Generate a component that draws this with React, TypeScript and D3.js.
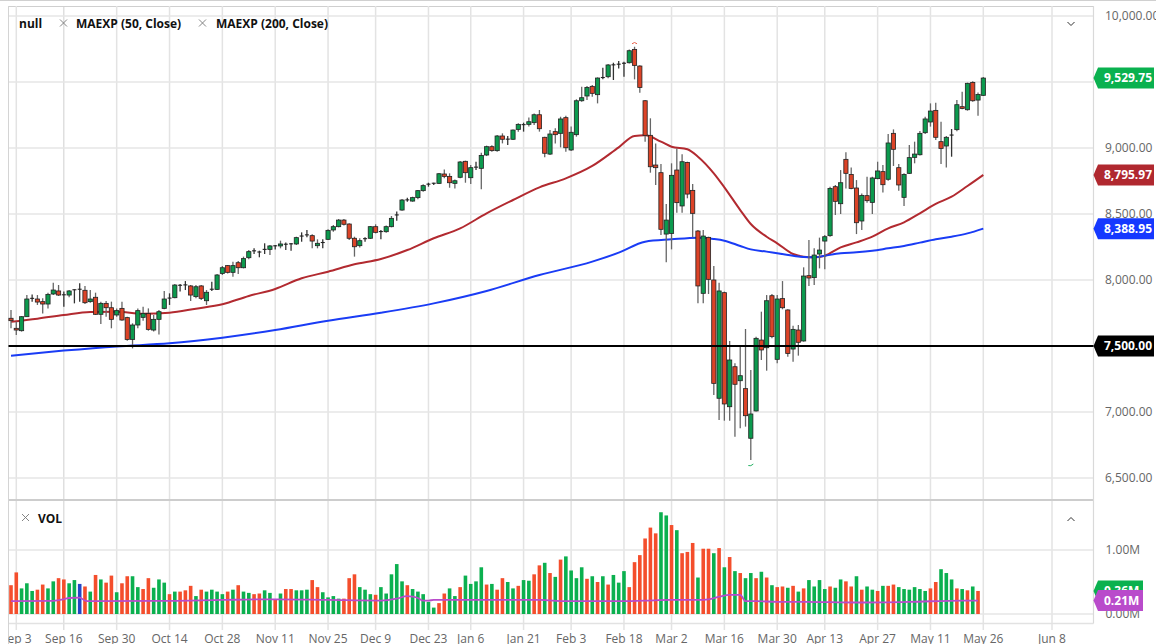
import React from "react";
import { scaleLinear, line, curveMonotoneX, format } from "d3";

// price data (bar 0 is the one before Sep 3)
const opens = [
  7710,7634,7616,7722,7854,7856,7836,7818,7894,7917,
  7888,7886,7922,7928,7922,7836,7869,7740,7823,7790,
  7735,7785,7715,7550,7659,7717,7747,7621,7702,7785,
  7859,7866,7958,7960,7955,7874,7955,7843,7927,7929,
  8050,8109,8058,8131,8093,8169,8218,8212,8222,8232,
  8256,8258,8271,8272,8273,8329,8339,8336,8260,8281,
  8308,8379,8404,8454,8424,8316,8260,8308,8316,8404,
  8364,8366,8404,8490,8530,8604,8598,8624,8677,8723,
  8733,8732,8803,8785,8732,8778,8899,8775,8851,8846,
  8947,9010,8980,9091,9064,9066,9141,9175,9179,9192,
  9252,9081,8954,9124,9111,9230,8985,9101,9358,9394,
  9467,9404,9531,9540,9627,9632,9639,9646,9747,9621,
  9358,9096,8871,8813,8348,8353,8833,8561,8891,8679,
  8371,7899,8323,8000,7104,7904,7040,7343,7237,7177,
  6801,7008,7545,7487,7881,7399,7859,7773,7477,7621,
  7538,8033,8018,8197,8295,8336,8707,8578,8914,8800,
  8697,8447,8639,8588,8768,8821,8763,9111,8851,8626,
  8808,8929,8949,9116,9197,9285,9048,9015,9094,9139,
  9313,9290,9497,9363,9399,
];
const closes = [
  7692,7621,7722,7856,7861,7833,7818,7891,7924,7886,
  7885,7917,7926,7930,7828,7856,7740,7823,7790,7702,
  7768,7697,7550,7659,7768,7747,7626,7702,7760,7856,
  7863,7962,7960,7963,7886,7949,7861,7907,7930,8038,
  8093,8058,8109,8093,8162,8215,8221,8209,8232,8258,
  8259,8273,8269,8274,8321,8333,8342,8295,8278,8284,
  8376,8404,8454,8422,8316,8252,8298,8313,8404,8361,
  8367,8404,8467,8493,8606,8607,8624,8677,8715,8726,
  8731,8805,8785,8737,8752,8894,8813,8851,8855,8944,
  9010,8980,9091,9066,9067,9136,9179,9177,9199,9252,
  9146,8960,9106,9101,9220,9002,9119,9358,9381,9459,
  9414,9530,9534,9629,9630,9635,9642,9737,9626,9459,
  9096,8858,8851,8384,8454,8793,8586,8896,8651,8505,
  7955,8333,8005,7217,7917,7061,7394,7210,7275,6972,
  6985,7558,7470,7843,7571,7856,7790,7444,7626,7528,
  8030,8015,8189,8227,8328,8694,8596,8737,8808,8694,
  8434,8641,8601,8773,8826,8722,9038,8990,8720,8800,
  8927,8954,9111,9220,9280,9081,8997,9081,9098,9328,
  9300,9490,9358,9406,9529.75,
];
const highs = [
  7773,7684,7727,7886,7891,7886,7861,7904,7980,7962,
  7912,7924,7929,7975,7955,7924,7904,7836,7841,7836,
  7785,7836,7722,7672,7785,7798,7785,7735,7773,7917,
  7899,7970,7970,7992,7962,7962,7962,7924,7987,8045,
  8106,8114,8139,8144,8177,8227,8240,8222,8278,8265,
  8265,8298,8285,8280,8328,8361,8379,8346,8308,8308,
  8384,8417,8462,8462,8429,8328,8316,8323,8409,8422,
  8379,8412,8485,8518,8614,8624,8631,8682,8725,8737,
  8737,8810,8838,8808,8762,8901,8904,8871,8896,8964,
  9018,9020,9098,9111,9091,9141,9187,9192,9232,9262,
  9288,9086,9136,9149,9237,9245,9162,9369,9464,9470,
  9477,9535,9608,9636,9646,9659,9654,9747,9767,9626,
  9363,9225,9035,8879,8576,8884,8997,8952,8896,8727,
  8379,8379,8328,8106,7980,7912,7538,7369,7495,7629,
  7318,7571,7760,7886,7894,7886,7992,7778,7654,7659,
  8096,8303,8240,8321,8341,8707,8720,8833,8967,8853,
  8757,8656,8783,8783,8896,8871,9106,9141,8879,8808,
  9023,9048,9129,9237,9338,9343,9199,9091,9144,9363,
  9427,9495,9505,9421,9538,
];
const lows = [
  7634,7583,7609,7722,7836,7811,7747,7785,7886,7879,
  7798,7869,7823,7836,7818,7828,7735,7667,7722,7634,
  7722,7692,7540,7482,7634,7692,7616,7609,7588,7778,
  7811,7861,7912,7924,7841,7861,7848,7811,7917,7924,
  8038,8050,8025,8045,8088,8157,8197,8172,8197,8189,
  8232,8240,8227,8222,8265,8290,8323,8240,8240,8240,
  8303,8366,8399,8412,8303,8177,8247,8290,8311,8353,
  8308,8358,8399,8449,8525,8593,8593,8611,8669,8707,
  8720,8727,8770,8699,8694,8770,8737,8727,8833,8687,
  8939,8972,8972,9035,9023,9060,9124,9124,9162,9174,
  9124,8929,8947,9035,9005,8972,8977,9086,9351,9363,
  9389,9338,9520,9528,9515,9603,9540,9641,9520,9419,
  9048,8813,8720,8341,8134,8232,8510,8510,8619,8323,
  7823,7823,7894,7129,6939,6934,6934,6813,6876,6889,
  6636,7003,7394,7313,7558,7369,7778,7419,7381,7427,
  7533,7955,7962,8088,8081,8328,8492,8500,8694,8687,
  8348,8379,8586,8500,8763,8662,8752,8864,8677,8561,
  8803,8884,8944,9106,9162,9060,8879,8853,8934,9126,
  9293,9283,9351,9245,9394,
];

// volume in millions, no bar for the last session
const volumes = [
  0.45,0.65,0.40,0.48,0.36,0.38,0.46,0.40,0.51,0.56,
  0.54,0.48,0.53,0.47,0.43,0.35,0.61,0.54,0.49,0.60,
  0.34,0.48,0.59,0.59,0.42,0.39,0.56,0.41,0.54,0.49,
  0.31,0.35,0.35,0.37,0.44,0.28,0.38,0.35,0.38,0.35,
  0.31,0.35,0.38,0.45,0.35,0.33,0.31,0.32,0.37,0.33,
  0.22,0.32,0.39,0.39,0.37,0.37,0.38,0.53,0.42,0.34,
  0.26,0.28,0.24,0.24,0.56,0.62,0.42,0.38,0.31,0.30,
  0.42,0.32,0.62,0.78,0.51,0.45,0.39,0.35,0.31,0.19,
  0.10,0.17,0.32,0.40,0.28,0.42,0.60,0.47,0.51,0.73,
  0.46,0.47,0.38,0.56,0.50,0.40,0.44,0.53,0.52,0.62,
  0.76,0.80,0.64,0.58,0.85,0.90,0.68,0.56,0.73,0.55,
  0.59,0.50,0.59,0.46,0.61,0.49,0.67,0.42,0.81,0.92,
  1.18,1.35,1.26,1.59,1.54,1.39,1.31,0.95,0.97,1.11,
  0.57,1.02,1.02,0.95,1.03,0.73,0.89,0.67,0.64,0.56,
  0.64,0.56,0.66,0.57,0.45,0.42,0.43,0.41,0.44,0.35,
  0.40,0.53,0.43,0.53,0.39,0.43,0.41,0.54,0.51,0.43,
  0.59,0.38,0.43,0.38,0.36,0.44,0.44,0.46,0.42,0.39,
  0.38,0.42,0.39,0.36,0.40,0.50,0.70,0.64,0.54,0.40,
  0.39,0.37,0.43,0.36,
];
// r = down, g = up, b = the one odd blue bar
const volumeSides = (
  "rrgggrrggr" + "rggbrgrgrr" + "grrggrrggg" + "rgrrrgrggg" + "grgrggrrgg" +
  "rgrrgggrrg" + "gggrrrgggr" + "ggggg" + "rgggggrr" + "ggrgggg" + "rgrrggrgg" +
  "rrgrgrggggr" + "grgrgggrrr" + "rrrggrgrrr" + "grrgrgrgrg" + "grgrgrrgrg" +
  "rgggg" + "rggrrgrggr" + "grrggggggr" + "rgggrgrg"
).split("");

const ma50Index = [0,5,10,15,20,25,30,35,40,45,50,55,60,65,70,75,80,85,90,95,100,105,110,115,118,120,123,125,128,130,133,135,138,140,143,145,148,150,152,154,157,160,163,166,169,172,175,178,181,184];
const ma50Values = [7684,7707,7735,7758,7760,7745,7752,7783,7816,7879,7932,8013,8063,8119,8159,8227,8316,8391,8505,8606,8702,8770,8864,9005,9091,9096,9048,9010,8990,8934,8808,8702,8530,8424,8328,8278,8197,8177,8172,8184,8247,8285,8328,8391,8437,8505,8576,8631,8712,8795.97];

const ma200Index = [0,10,20,30,40,50,60,70,80,90,100,110,115,120,125,130,133,135,138,140,143,145,148,150,152,154,157,160,163,166,169,172,175,178,181,184];
const ma200Values = [7427,7465,7497,7520,7563,7621,7692,7752,7823,7917,8038,8139,8207,8290,8308,8321,8311,8298,8258,8232,8215,8202,8184,8174,8172,8184,8202,8210,8222,8240,8258,8283,8308,8328,8353,8388.95];

const volMaIndex = [0,8,10,11,13,14,15,30,40,50,60,70,73,75,76,77,78,79,80,90,100,105,115,120,125,130,132,134,136,138,139,141,145,150,160,170,180,183];
const volMaValues = [0.2,0.205,0.23,0.25,0.255,0.21,0.2,0.205,0.22,0.23,0.22,0.21,0.24,0.28,0.27,0.25,0.21,0.21,0.22,0.22,0.22,0.2,0.2,0.21,0.22,0.22,0.23,0.27,0.3,0.3,0.2,0.2,0.19,0.19,0.18,0.19,0.21,0.21];

const dateLabels = ["Sep 3","Sep 16","Sep 30","Oct 14","Oct 28","Nov 11","Nov 25","Dec 9","Dec 23","Jan 6","Jan 21","Feb 3","Feb 18","Mar 2","Mar 16","Mar 30","Apr 13","Apr 27","May 11","May 26","Jun 8"];
const dateIndex = [1,10,20,30,40,50,60,69,79,87,97,106,116,125,135,145,154,164,174,184,197];
const priceTicks = [6500,7000,7500,8000,8500,9000,9500,10000];
const volTicks = [0,1];

const RIGHT = 1093.5;
const LEFT = 8.5;
const PANE_TOP = 6;
const PANE_SPLIT = 500;
const VOL_BOTTOM = 623.5;

const x = scaleLinear().domain([0, 197]).range([11, 1052]);
const y = scaleLinear().domain([6500, 10000]).range([478, 16]);
const yVol = scaleLinear().domain([0, 1]).range([614, 550]);

const fmtPrice = format(",.2f");
const fmtVol = (v: number) => v.toFixed(2) + "M";

const UP = "#0c9a4e";
const DOWN = "#dc4327";
const FONT = "'Open Sans', sans-serif";

const path50 = line<number>()
  .x((_, i) => x(ma50Index[i]))
  .y((d) => y(d))
  .curve(curveMonotoneX)(ma50Values) as string;
const path200 = line<number>()
  .x((_, i) => x(ma200Index[i]))
  .y((d) => y(d))
  .curve(curveMonotoneX)(ma200Values) as string;
const pathVolMa = line<number>()
  .x((_, i) => x(volMaIndex[i]))
  .y((d) => yVol(d))
  .curve(curveMonotoneX)(volMaValues) as string;

const Tag = ({ yPos, color, text, right = 1154 }: { yPos: number; color: string; text: string; right?: number }) => {
  const h = 10.5;
  const pts = `${RIGHT},${yPos} ${RIGHT + 4.5},${yPos - h} ${right},${yPos - h} ${right},${yPos + h} ${RIGHT + 4.5},${yPos + h}`;
  return (
    <g>
      <polygon points={pts} fill={color} />
      <text x={1104} y={yPos + 4.3} fill="#fff" fontSize={12} fontWeight={700} fontFamily={FONT}>
        {text}
      </text>
    </g>
  );
};

const Cross = ({ cx, cy }: { cx: number; cy: number }) => (
  <path
    d={`M${cx - 3.5},${cy - 3.5}L${cx + 3.5},${cy + 3.5}M${cx + 3.5},${cy - 3.5}L${cx - 3.5},${cy + 3.5}`}
    stroke="#777"
    strokeWidth={0.9}
  />
);

export default function App() {
  const last = closes.length - 1;
  return (
    <svg
      width={1156}
      height={644}
      style={{ position: "absolute", left: 0, top: 0, background: "#fff" }}
    >
      <defs>
        <clipPath id="dates">
          <rect x={LEFT} y={624} width={1090} height={20} />
        </clipPath>
      </defs>

      {/* window edge + frame */}
      <line x1={0} x2={1156} y1={0.5} y2={0.5} stroke="#d0d0d0" />
      <line x1={LEFT} x2={RIGHT} y1={PANE_TOP + 0.5} y2={PANE_TOP + 0.5} stroke="#cfcfcf" />

      {/* grid */}
      {dateIndex.map((d) => (
        <line
          key={d}
          x1={x(d)}
          x2={x(d)}
          y1={PANE_TOP}
          y2={630}
          stroke={d === 10 ? "#cfcfcf" : "#e3e3e3"}
          strokeWidth={d === 10 ? 1 : 1.5}
        />
      ))}
      {priceTicks.map((t) => (
        <line key={t} x1={LEFT} x2={RIGHT} y1={y(t)} y2={y(t)} stroke="#e6e6e6" strokeWidth={1.6} />
      ))}
      {volTicks.map((t) => (
        <line key={t} x1={LEFT} x2={RIGHT} y1={yVol(t)} y2={yVol(t)} stroke="#e6e6e6" strokeWidth={1.6} />
      ))}
      <line x1={LEFT} x2={RIGHT} y1={VOL_BOTTOM} y2={VOL_BOTTOM} stroke="#e2e2e2" strokeWidth={1.5} />
      <line x1={LEFT} x2={RIGHT} y1={PANE_SPLIT} y2={PANE_SPLIT} stroke="#cdcdcd" strokeWidth={2} />
      <line x1={LEFT} x2={LEFT} y1={PANE_TOP} y2={644} stroke="#d4d4d4" />
      <line x1={RIGHT} x2={RIGHT} y1={PANE_TOP} y2={VOL_BOTTOM} stroke="#d9d9d9" strokeWidth={1.2} />

      {/* moving averages */}
      <path d={path50} fill="none" stroke="#b22a30" strokeWidth={2} />
      <path d={path200} fill="none" stroke="#1a3cf5" strokeWidth={2} />

      {/* candles */}
      {closes.map((c, i) => {
        const o = opens[i];
        const top = y(Math.max(o, c));
        const bot = y(Math.min(o, c));
        const isUp = c >= o;
        const flat = bot - top < 1.5;
        return (
          <g key={i}>
            <line
              x1={x(i)}
              x2={x(i)}
              y1={y(highs[i])}
              y2={y(lows[i])}
              stroke={flat ? "#333" : "#666"}
              strokeWidth={1.3}
            />
            {flat ? (
              <line x1={x(i) - 2} x2={x(i) + 2} y1={top} y2={top} stroke="#222" strokeWidth={1.1} />
            ) : (
              <rect
                x={x(i) - 2.1}
                y={top}
                width={4.2}
                height={bot - top}
                fill={isUp ? UP : DOWN}
                stroke="#222"
                strokeWidth={0.8}
              />
            )}
          </g>
        );
      })}

      {/* tiny clipped extreme markers */}
      <path
        d={`M${x(118) - 2.5},${y(highs[118]) - 3}q2.5,-2.5 5,0`}
        fill="none"
        stroke="#e8604a"
        strokeWidth={1}
      />
      <path
        d={`M${x(140) - 2.5},${y(lows[140]) + 5.5}q2.5,1 5,-1.5`}
        fill="none"
        stroke="#26b265"
        strokeWidth={1}
      />

      {/* 7500 level */}
      <line x1={LEFT} x2={RIGHT} y1={y(7500)} y2={y(7500)} stroke="#000" strokeWidth={2} />

      {/* volume */}
      {volumes.map((v, i) => (
        <rect
          key={i}
          x={x(i) - 1.8}
          y={yVol(v)}
          width={3.6}
          height={yVol(0) - yVol(v)}
          fill={volumeSides[i] === "g" ? "#0bb04f" : volumeSides[i] === "b" ? "#2346c6" : "#f44e2c"}
        />
      ))}
      <path d={pathVolMa} fill="none" stroke="#b94bcb" strokeWidth={1.8} />

      {/* legends */}
      <g fontFamily={FONT} fontSize={12} fontWeight={700} fill="#111">
        <text x={19} y={28}>null</text>
        <text x={76} y={28}>MAEXP (50, Close)</text>
        <text x={216} y={28}>MAEXP (200, Close)</text>
        <text x={38} y={523}>VOL</text>
      </g>
      <Cross cx={63.5} cy={23} />
      <Cross cx={202.5} cy={23} />
      <Cross cx={25.5} cy={517.5} />
      <path d="M1067.5,22l3.5,3.5l3.5,-3.5" fill="none" stroke="#333" strokeWidth={1} />
      <path d="M1067.5,521l3.5,-3.5l3.5,3.5" fill="none" stroke="#333" strokeWidth={1} />

      {/* axis labels */}
      <g fontFamily={FONT} fontSize={12} fill="#666">
        {priceTicks
          .filter((t) => t !== 7500 && t !== 9500)
          .map((t) => (
            <text key={t} x={1105} y={y(t) + 4.3}>
              {fmtPrice(t)}
            </text>
          ))}
        {volTicks.map((t) => (
          <text key={t} x={1105.5} y={yVol(t) + 4.3}>
            {fmtVol(t)}
          </text>
        ))}
        <g clipPath="url(#dates)">
          {dateLabels.map((d, i) => (
            <text key={d} x={x(dateIndex[i])} y={642.5} textAnchor="middle">
              {d}
            </text>
          ))}
        </g>
      </g>

      {/* value tags */}
      <Tag yPos={y(closes[last])} color="#0ab14f" text={fmtPrice(closes[last])} />
      <Tag yPos={y(ma50Values[ma50Values.length - 1])} color="#b0282f" text={fmtPrice(ma50Values[ma50Values.length - 1])} />
      <Tag yPos={y(ma200Values[ma200Values.length - 1])} color="#1538ff" text={fmtPrice(ma200Values[ma200Values.length - 1])} />
      <Tag yPos={y(7500)} color="#000" text={fmtPrice(7500)} />
      <Tag right={1143} yPos={yVol(volumes[volumes.length - 1])} color="#0ab14f" text={fmtVol(volumes[volumes.length - 1])} />
      <Tag right={1143} yPos={yVol(volMaValues[volMaValues.length - 1])} color="#b94bcb" text={fmtVol(volMaValues[volMaValues.length - 1])} />
    </svg>
  );
}
